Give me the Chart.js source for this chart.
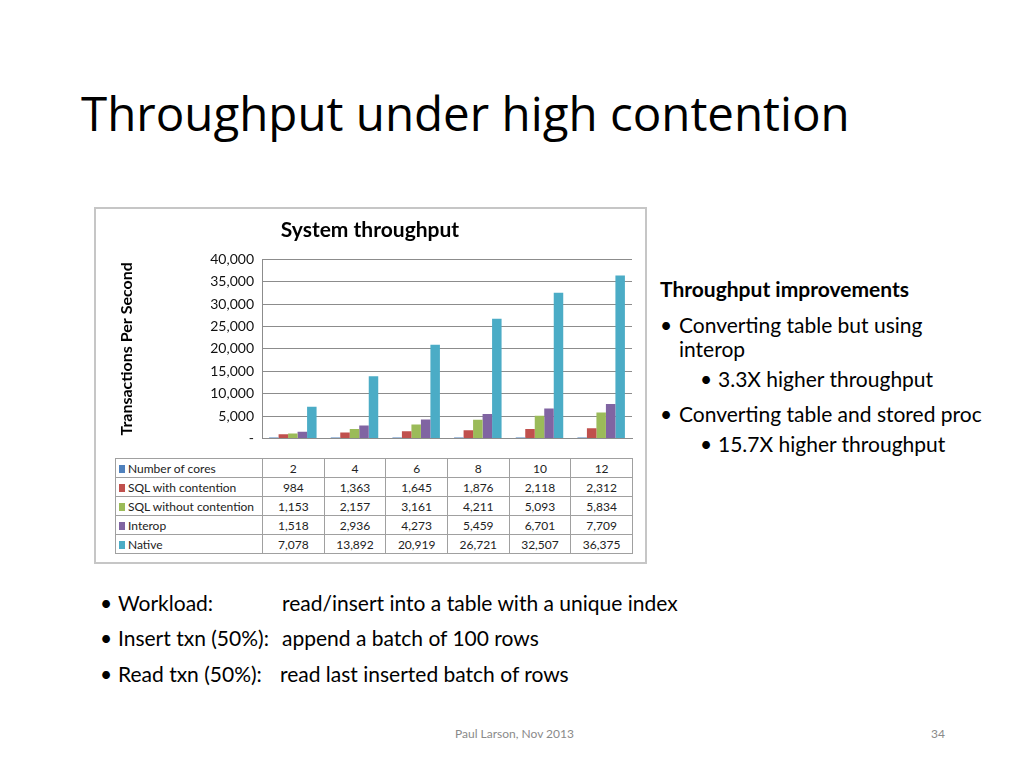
<!DOCTYPE html>
<html lang="en">
<head>
    <meta charset="UTF-8">
    <title>Throughput under high contention</title>
    <style>
        body {
            margin: 0;
            padding: 0;
            width: 1024px;
            height: 768px;
            background-color: #fff;
            font-family: Lato, "Open Sans", sans-serif;
            color: #000;
            position: relative;
            overflow: hidden;
        }

        h1 {
            position: absolute;
            left: 81px;
            top: 81px;
            margin: 0;
            font-family: "Open Sans", sans-serif;
            font-weight: normal;
            font-size: 47.5px;
            line-height: 64px;
        }

        #frame {
            position: absolute;
            left: 94px;
            top: 207px;
            width: 549px;
            height: 353px;
            border: 2px solid #c6c6c6;
        }

        #chartBox {
            position: absolute;
            left: 0;
            top: 0;
            width: 548px;
            height: 246px;
        }

        #dataTable {
            position: absolute;
            left: 19px;
            top: 249px;
            border-collapse: collapse;
            font-size: 12px;
            table-layout: fixed;
        }

        #dataTable td {
            border: 1px solid #a0a0a0;
            height: 18px;
            padding: 0;
            text-align: center;
            color: #222;
        }

        #dataTable td.serie {
            text-align: left;
            padding-left: 3px;
            white-space: nowrap;
        }

        .key {
            display: inline-block;
            width: 6px;
            height: 8px;
            margin-right: 3px;
        }

        .txt {
            position: absolute;
            white-space: nowrap;
            font-size: 21px;
            line-height: 24px;
        }

        .footer {
            position: absolute;
            font-size: 12px;
            color: #8a8a8a;
            white-space: nowrap;
        }
    </style>
    <script src="https://cdn.jsdelivr.net/npm/chart.js"></script>
</head>
<body>
    <h1>Throughput under high contention</h1>

    <div id="frame">
        <div id="chartBox"><canvas id="throughputChart"></canvas></div>
        <table id="dataTable"></table>
    </div>

    <div class="txt" style="left:660px; top:277px; font-weight:bold;">Throughput improvements</div>
    <div class="txt" style="left:660px; top:313px;">•</div>
    <div class="txt" style="left:679px; top:313px;">Converting table but using<br>interop</div>
    <div class="txt" style="left:700px; top:367px;">•</div>
    <div class="txt" style="left:718px; top:367px;">3.3X higher throughput</div>
    <div class="txt" style="left:660px; top:402px;">•</div>
    <div class="txt" style="left:679px; top:402px;">Converting table and stored proc</div>
    <div class="txt" style="left:700px; top:432px;">•</div>
    <div class="txt" style="left:718px; top:432px;">15.7X higher throughput</div>

    <div class="txt" style="left:100px; top:591px;">•</div>
    <div class="txt" style="left:118px; top:591px;">Workload:</div>
    <div class="txt" style="left:282px; top:591px;">read/insert into a table with a unique index</div>
    <div class="txt" style="left:100px; top:626px;">•</div>
    <div class="txt" style="left:118px; top:626px;">Insert txn (50%):</div>
    <div class="txt" style="left:282px; top:626px;">append a batch of 100 rows</div>
    <div class="txt" style="left:100px; top:662px;">•</div>
    <div class="txt" style="left:118px; top:662px;">Read txn (50%):</div>
    <div class="txt" style="left:280px; top:662px;">read last inserted batch of rows</div>

    <div class="footer" style="left:455px; top:726px;">Paul Larson, Nov 2013</div>
    <div class="footer" style="left:931px; top:726px;">34</div>

    <script>
        const categorias = ['2', '4', '6', '8', '10', '12'];
        const numCores = [2, 4, 6, 8, 10, 12];
        const sqlComContencao = [984, 1363, 1645, 1876, 2118, 2312];
        const sqlSemContencao = [1153, 2157, 3161, 4211, 5093, 5834];
        const interop = [1518, 2936, 4273, 5459, 6701, 7709];
        const nativo = [7078, 13892, 20919, 26721, 32507, 36375];

        const series = [
            { label: 'Number of cores', data: numCores, cor: '#4f81bd' },
            { label: 'SQL with contention', data: sqlComContencao, cor: '#c0504d' },
            { label: 'SQL without contention', data: sqlSemContencao, cor: '#9bbb59' },
            { label: 'Interop', data: interop, cor: '#8064a2' },
            { label: 'Native', data: nativo, cor: '#4bacc6' }
        ];

        const fmt = v => v.toLocaleString('en-US');

        const ctx = document.getElementById('throughputChart').getContext('2d');
        const chart = new Chart(ctx, {
            type: 'bar',
            data: {
                labels: categorias,
                datasets: series.map(s => ({
                    label: s.label,
                    data: s.data,
                    backgroundColor: s.cor,
                    borderWidth: 0,
                    barPercentage: 1,
                    categoryPercentage: 0.77,
                    minBarLength: 1
                }))
            },
            options: {
                responsive: true,
                maintainAspectRatio: false,
                animation: false,
                layout: { padding: { left: 12, right: 12, top: 0, bottom: 2 } },
                plugins: {
                    legend: { display: false },
                    tooltip: { enabled: false },
                    title: {
                        display: true,
                        text: 'System throughput',
                        color: '#000',
                        font: { family: 'Lato', size: 21, weight: 'bold' },
                        padding: { top: 9, bottom: 16 }
                    }
                },
                scales: {
                    x: {
                        ticks: { display: false },
                        grid: { display: false },
                        border: { display: true, color: '#8c8c8c', width: 1 }
                    },
                    y: {
                        min: 0,
                        max: 40000,
                        ticks: {
                            stepSize: 5000,
                            padding: 8,
                            color: '#111',
                            font: { family: 'Lato', size: 14 },
                            callback: v => v === 0 ? '-' : fmt(v)
                        },
                        grid: { color: '#8c8c8c', drawTicks: false },
                        border: { display: true, color: '#8c8c8c' },
                        title: {
                            display: true,
                            text: 'Transactions Per Second',
                            color: '#000',
                            font: { family: 'Lato', size: 16, weight: 'bold' },
                            padding: { top: 9, bottom: 0 }
                        },
                        afterFit: scale => { scale.width = 154; }
                    }
                }
            }
        });

        // tabela de dados abaixo do gráfico
        const tabela = document.getElementById('dataTable');
        const colgroup = document.createElement('colgroup');
        colgroup.innerHTML = '<col style="width:147px">' + categorias.map(() => '<col style="width:61.67px">').join('');
        tabela.appendChild(colgroup);
        series.forEach(s => {
            const tr = document.createElement('tr');
            tr.innerHTML = '<td class="serie"><span class="key" style="background:' + s.cor + '"></span>' + s.label + '</td>' +
                s.data.map(v => '<td>' + fmt(v) + '</td>').join('');
            tabela.appendChild(tr);
        });
    </script>
</body>
</html>
